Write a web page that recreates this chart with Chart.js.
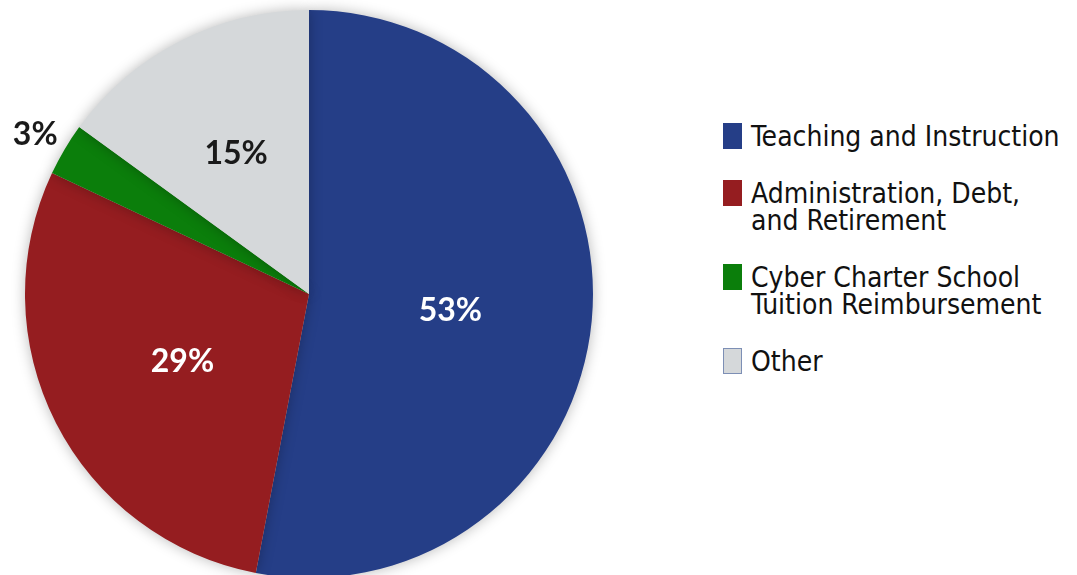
<!DOCTYPE html>
<html>
<head>
<meta charset="utf-8">
<script src="https://cdn.jsdelivr.net/npm/chart.js@4/dist/chart.umd.min.js"></script>
<style>
  html, body { margin: 0; padding: 0; background: #fff; }
  body { width: 1077px; height: 575px; overflow: hidden; position: relative; }
  #pieBox { position: absolute; left: 0; top: 0; width: 618px; height: 588px; }
  #legend { position: absolute; left: 723px; top: 123px; font-family: "DejaVu Sans Condensed", "DejaVu Sans", sans-serif; font-size: 28px; color: #111; }
  .item { display: flex; align-items: flex-start; margin-bottom: 30px; }
  .box { width: 19px; height: 26px; margin-right: 9px; flex: none; box-sizing: border-box; }
  .txt { line-height: 27px; margin-top: 0px; }
</style>
</head>
<body>
<div id="pieBox"><canvas id="pie"></canvas></div>
<div id="legend"></div>
<script>
var labels = [
  ["Teaching and Instruction"],
  ["Administration, Debt,", "and Retirement"],
  ["Cyber Charter School", "Tuition Reimbursement"],
  ["Other"]
];
var shares = [53, 29, 3, 15];
var sliceColors = ["#253e87", "#951d20", "#0b7e0b", "#d5d8da"];
var boxBorders = ["#253e87", "#951d20", "#0b7e0b", "#7d8fb5"];

// where each % label sits, as a fraction of the radius
var labelRadius = [0.5, 0.5, 1.12, 0.565];
var labelColor = ["#ffffff", "#ffffff", "#1a1a1a", "#1a1a1a"];

// legend built by hand (multi-line entries)
var legendDiv = document.getElementById("legend");
for (var i = 0; i < labels.length; i++) {
  var item = document.createElement("div");
  item.className = "item";
  var box = document.createElement("div");
  box.className = "box";
  box.style.background = sliceColors[i];
  box.style.border = "1px solid " + boxBorders[i];
  var txt = document.createElement("div");
  txt.className = "txt";
  txt.innerHTML = labels[i].join("<br>");
  item.appendChild(box);
  item.appendChild(txt);
  legendDiv.appendChild(item);
}

var shadowPlugin = {
  id: "pieShadow",
  beforeDatasetsDraw: function(chart) {
    var ctx = chart.ctx;
    ctx.save();
    ctx.shadowColor = "rgba(0,0,0,0.28)";
    ctx.shadowBlur = 14;
  },
  afterDatasetsDraw: function(chart) {
    chart.ctx.restore();
  }
};

var pctPlugin = {
  id: "pctLabels",
  afterDraw: function(chart) {
    var ctx = chart.ctx;
    var arcs = chart.getDatasetMeta(0).data;
    ctx.save();
    ctx.font = "bold 32px Lato, 'Open Sans', sans-serif";
    ctx.textAlign = "center";
    ctx.textBaseline = "middle";
    arcs.forEach(function(arc, i) {
      var p = arc.getProps(["x", "y", "startAngle", "endAngle", "outerRadius"], true);
      var mid = (p.startAngle + p.endAngle) / 2;
      var r = p.outerRadius * labelRadius[i];
      ctx.fillStyle = labelColor[i];
      ctx.fillText(shares[i] + "%", p.x + Math.cos(mid) * r, p.y + Math.sin(mid) * r + 3);
    });
    ctx.restore();
  }
};

new Chart(document.getElementById("pie"), {
  type: "pie",
  data: {
    labels: labels.map(function(l) { return l.join(" "); }),
    datasets: [{
      data: shares,
      backgroundColor: sliceColors,
      borderWidth: 0
    }]
  },
  options: {
    responsive: true,
    maintainAspectRatio: false,
    animation: false,
    layout: { padding: 10 },
    plugins: {
      legend: { display: false },
      tooltip: { enabled: false }
    }
  },
  plugins: [shadowPlugin, pctPlugin]
});
</script>
</body>
</html>
